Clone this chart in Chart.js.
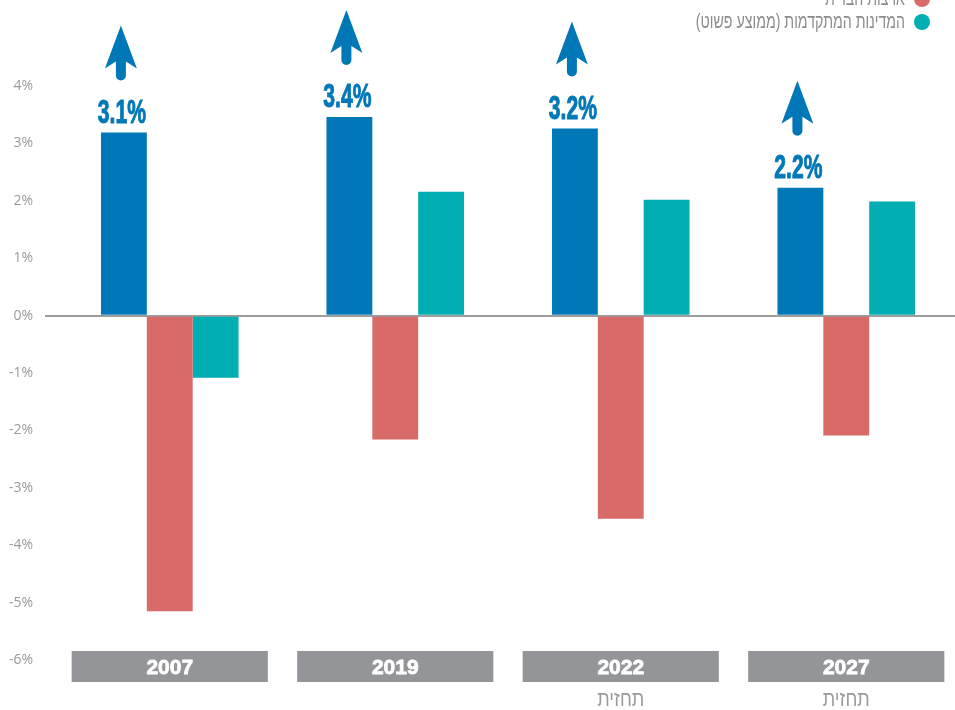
<!DOCTYPE html>
<html lang="he">
<head>
<meta charset="utf-8">
<script src="https://cdn.jsdelivr.net/npm/chart.js@4"></script>
<style>
  html, body { margin: 0; padding: 0; background: #fff; overflow: hidden; }
  #wrap { position: relative; width: 959px; height: 710px; }
</style>
</head>
<body>
<div id="wrap"><canvas id="chart"></canvas></div>
<script>
const years = ["2007", "2019", "2022", "2027"];
const notes = ["", "", "תחזית", "תחזית"];
const seriesNames = ["ישראל", "ארצות הברית", "המדינות המתקדמות (ממוצע פשוט)"];
const israel = [3.19, 3.46, 3.26, 2.23];
const usa = [-5.15, -2.16, -3.54, -2.09];
const advanced = [-1.08, 2.16, 2.02, 1.99];
const israelLabels = ["3.1%", "3.4%", "3.2%", "2.2%"];
const yTicks = [-6, -5, -4, -3, -2, -1, 0, 1, 2, 3, 4];

const COLORS = ["#0078b7", "#d86a67", "#00aeb4"];
const GRAY_BOX = "#939598";
const TEXT_GRAY = "#9a9a9a";
const SANS = '"Liberation Sans", Arial, sans-serif';

// no condensed font installed, so squeeze the text horizontally
function narrowText(ctx, text, x, y, sx, stroke) {
  ctx.save();
  ctx.translate(x, y);
  ctx.scale(sx, 1);
  if (stroke) {
    ctx.strokeStyle = ctx.fillStyle;
    ctx.lineWidth = stroke;
    ctx.strokeText(text, 0, 0);
  }
  ctx.fillText(text, 0, 0);
  ctx.restore();
}

function drawArrow(ctx, cx, bottom) {
  const tip = bottom - 55;
  ctx.beginPath();
  ctx.moveTo(cx, tip);
  ctx.lineTo(cx + 16, tip + 43);
  ctx.lineTo(cx + 5, tip + 36);
  ctx.lineTo(cx + 5, bottom - 5);
  ctx.arc(cx, bottom - 5, 5, 0, Math.PI);
  ctx.lineTo(cx - 5, tip + 36);
  ctx.lineTo(cx - 16, tip + 43);
  ctx.closePath();
  ctx.fill();
}

// labels + arrows over the first series, year boxes, legend
const decorations = {
  id: "decorations",
  afterDraw(chart) {
    const ctx = chart.ctx;
    const xs = chart.scales.x;
    ctx.save();

    // value labels and arrows
    const meta = chart.getDatasetMeta(0);
    meta.data.forEach((bar, i) => {
      const base = bar.y - 10;
      ctx.fillStyle = COLORS[0];
      ctx.font = "bold 33px " + SANS;
      ctx.textAlign = "center";
      ctx.textBaseline = "alphabetic";
      narrowText(ctx, israelLabels[i], bar.x - 2, base, 0.64, 1);
      drawArrow(ctx, bar.x - 3, base - 24 - 18);
    });

    // year boxes
    const catW = xs.width / years.length;
    const boxW = catW * 0.87;
    years.forEach((y, i) => {
      const cx = xs.getPixelForValue(i);
      ctx.fillStyle = GRAY_BOX;
      ctx.fillRect(cx - boxW / 2, 651, boxW, 31);
      ctx.fillStyle = "#fff";
      ctx.font = "bold 21px " + SANS;
      ctx.textAlign = "center";
      ctx.textBaseline = "middle";
      narrowText(ctx, y, cx, 668, 1, 0.8);
      if (notes[i]) {
        ctx.fillStyle = TEXT_GRAY;
        ctx.font = "22px " + SANS;
        narrowText(ctx, notes[i], cx, 700, 0.82);
      }
    });

    // legend (top right, partly above the canvas)
    seriesNames.forEach((name, i) => {
      const cy = 22 - (seriesNames.length - 1 - i) * 23;
      ctx.fillStyle = COLORS[i];
      ctx.beginPath();
      ctx.arc(922, cy, 8, 0, Math.PI * 2);
      ctx.fill();
      ctx.fillStyle = "#8c8c8c";
      ctx.font = "20px " + SANS;
      ctx.textAlign = "right";
      ctx.textBaseline = "middle";
      narrowText(ctx, name, 905, cy, 0.71);
    });
    ctx.restore();
  }
};

new Chart(document.getElementById("chart"), {
  type: "bar",
  data: {
    labels: years,
    datasets: [
      { label: seriesNames[0], data: israel, backgroundColor: COLORS[0] },
      { label: seriesNames[1], data: usa, backgroundColor: COLORS[1] },
      { label: seriesNames[2], data: advanced, backgroundColor: COLORS[2] },
    ],
  },
  options: {
    responsive: true,
    maintainAspectRatio: false,
    animation: false,
    layout: { padding: { top: 0, right: 0, bottom: 50, left: 0 } },
    datasets: { bar: { categoryPercentage: 0.61, barPercentage: 1 } },
    plugins: {
      legend: { display: false },
      tooltip: { callbacks: { label: c => ` ${c.dataset.label}: ${c.parsed.y}%` } },
    },
    scales: {
      x: { display: false },
      y: {
        z: 1,
        min: -6,
        max: 5.5,
        afterBuildTicks: s => { s.ticks = yTicks.map(v => ({ value: v })); },
        afterFit: s => { s.width = 57; s.paddingTop = 0; s.paddingBottom = 0; },
        border: { display: false },
        grid: {
          color: c => (c.tick && c.tick.value === 0 ? "#9d9d9d" : "rgba(0,0,0,0)"),
          lineWidth: 2,
          tickLength: 12,
        },
        ticks: {
          padding: 12,
          color: TEXT_GRAY,
          font: { family: '"Open Sans", sans-serif', size: 14 },
          callback: v => v + "%",
        },
      },
    },
  },
  plugins: [decorations],
});
</script>
</body>
</html>
